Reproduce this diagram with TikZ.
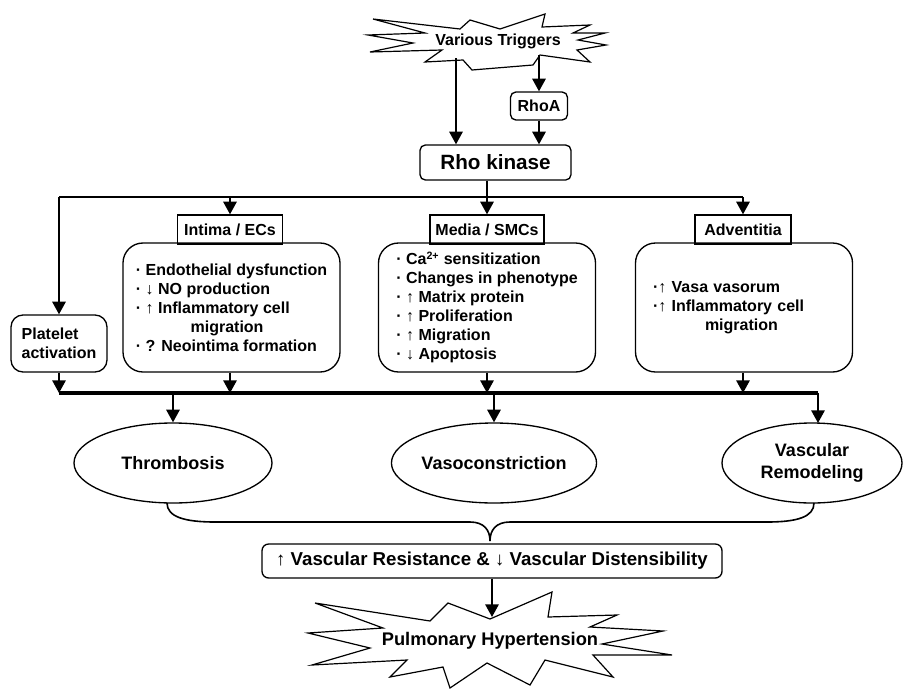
\documentclass[tikz,border=0pt]{standalone}
\usepackage{fontspec}
\setmainfont{Liberation Sans}
\usetikzlibrary{arrows.meta,shapes.geometric}

\tikzset{every picture/.style={line width=1pt}}
\tikzset{
  arr/.style={line width=1.5pt,-{Triangle[length=9.5pt,width=10pt]}},
  bus/.style={line width=1.8pt},
  lbl/.style={draw,inner sep=2pt,minimum height=21.75pt,font=\fontsize{12}{14}\selectfont\bfseries},
  panel/.style={draw,rounded corners=15pt,minimum width=162.75pt,minimum height=96.75pt,align=left,font=\fontsize{12}{14.25}\selectfont\bfseries},
  oval/.style={draw,ellipse,minimum width=148.5pt,minimum height=60pt,inner sep=0pt,align=center,font=\fontsize{13.5}{16}\selectfont\bfseries},
  burst/.style={line width=0.9pt}
}

\begin{document}
\begin{tikzpicture}[x=0.75pt,y=0.75pt,yscale=-1,xscale=1]
\useasboundingbox (0,0) rectangle (903,689);

%Star [top]
\draw [burst] (373,19) -- (460,29) -- (470,20) -- (500,29) -- (545,14) -- (542,27) -- (590,25) -- (573,33) -- (605,33) -- (578,40) -- (606,45) -- (577,50) -- (590,62) -- (540,55) -- (533,65) -- (472,70) -- (463,60) -- (425,62) -- (442,50) -- (370,52) -- (413,43) -- (368,35) -- (425,33) -- cycle ;
% Text Node
\node [font=\fontsize{12}{14}\selectfont\bfseries] (trig) at (498,41) {Various Triggers};
\coordinate (trigL) at (456,58);
\coordinate (trigR) at (539,55);

% Text Node
\node [draw,rounded corners=4pt,minimum width=42.75pt,minimum height=21pt,inner sep=1pt,font=\fontsize{12}{14}\selectfont\bfseries] (rhoa) at (539,106) {RhoA};
% Text Node
\node [draw,rounded corners=4pt,minimum width=113.25pt,minimum height=26.25pt,inner sep=1pt,font=\fontsize{15.5}{18}\selectfont\bfseries] (rk) at (495.5,162.5) {Rho kinase};

% Text Node
\node [lbl,minimum width=78.75pt] (intL) at (230,229.5) {Intima / ECs};
\node [lbl,minimum width=85.5pt] (medL) at (487,229.5) {Media / SMCs};
\node [lbl,minimum width=72pt] (advL) at (743,229.5) {Adventitia};

% Text Node
\node [panel] (intB) at (231.5,307.5) {%
· Endothelial dysfunction\\
· ↓ NO production\\
· ↑ Inflammatory cell\\
\hspace*{41pt}migration\\
· ? Neointima formation};
\node [panel] (medB) at (487,307.5) {%
· Ca\textsuperscript{2+} sensitization\\
· Changes in phenotype\\
· ↑ Matrix protein\\
· ↑ Proliferation\\
· ↑ Migration\\
· ↓ Apoptosis};
\node [panel,text width=136.5pt,inner xsep=12.75pt] (advB) at (744,307.5) {%
·↑ Vasa vasorum\\
·↑ Inflammatory cell\\
\hspace*{39pt}migration};
\node [draw,rounded corners=9pt,minimum width=72pt,minimum height=42.75pt,align=left,font=\fontsize{12}{14.25}\selectfont\bfseries] (plat) at (59,343.5) {Platelet\\activation};

% Text Node
\node [oval] (thr) at (173,463) {Thrombosis};
\node [oval] (vaso) at (494,463) {Vasoconstriction};
\node [oval,minimum width=135pt] (rem) at (812,463) {Vascular\\Remodeling};

% Text Node
\node [draw,rounded corners=5pt,minimum width=345pt,minimum height=25.5pt,inner sep=1pt,font=\fontsize{14}{16}\selectfont\bfseries] (res) at (492,561) {↑ Vascular Resistance \& ↓ Vascular Distensibility};

%Star [bottom]
\draw [burst] (315,603) -- (430,621) -- (448,603) -- (490,619) -- (552,592) -- (548,617) -- (617,615) -- (590,627) -- (663,631) -- (602,644) -- (672,655) -- (593,655) -- (613,677) -- (545,660) -- (530,685) -- (487,663) -- (450,688) -- (443,667) -- (390,677) -- (407,660) -- (312,665) -- (370,648) -- (308,633) -- (383,628) -- cycle ;
% Text Node
\node [font=\fontsize{13.7}{16}\selectfont\bfseries] (ph) at (490,641) {Pulmonary Hypertension};
\coordinate (phtop) at (490,617);

\coordinate (busA) at (0,197);
\coordinate (busB) at (0,393);
\coordinate (tip) at (490,541);

% Connection
\draw [arr] (trigL) -- (trigL |- rk.north);
\draw [arr] (trigR) -- (rhoa.north);
\draw [arr] (rhoa.south) -- (rhoa.south |- rk.north);
% Connection
\draw [bus] (plat.north |- busA) -- (advL.north |- busA);
\draw [arr] (medL.north |- rk.south) -- (medL.north);
\draw [arr] (plat.north |- busA) -- (plat.north);
\draw [arr] (intL.north |- busA) -- (intL.north);
\draw [arr] (advL.north |- busA) -- (advL.north);
% Connection
\draw [arr] (plat.south) -- (plat.south |- busB);
\draw [arr] (intL |- intB.south) -- (intL |- busB);
\draw [arr] (medB.south) -- (medB.south |- busB);
\draw [arr] (advL |- advB.south) -- (advL |- busB);
\draw [bus,line width=2.4pt] (plat.south |- busB) -- (818,393);
\draw [arr] (thr.north |- busB) -- (thr.north);
\draw [arr] (vaso.north |- busB) -- (vaso.north);
\draw [arr] (818,393) -- (818,423);
% Curve Lines [brace]
\draw [line width=1.2pt] (167,503) .. controls (167,517) and (185,522) .. (215,522) -- (470,522) .. controls (484,522) and (490,530) .. (tip) .. controls (490,530) and (496,522) .. (510,522) -- (767,522) .. controls (797,522) and (814,517) .. (814,503) ;
% Connection
\draw [arr] (res.south) -- (res.south |- phtop);

\end{tikzpicture}
\end{document}
